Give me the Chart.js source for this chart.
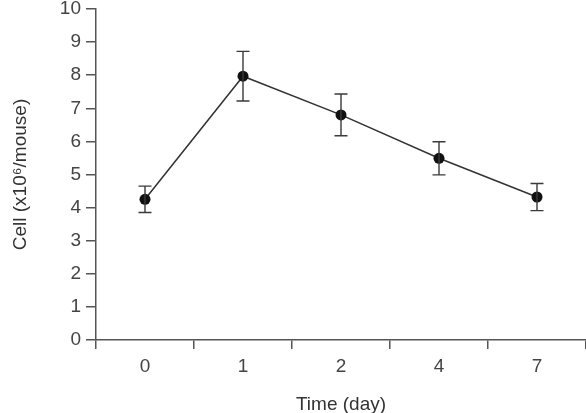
<!DOCTYPE html>
<html>
<head>
<meta charset="utf-8">
<script src="https://cdn.jsdelivr.net/npm/chart.js@4/dist/chart.umd.min.js"></script>
<style>
html,body{margin:0;padding:0;background:#fff;}
#wrap{width:586px;height:413px;}
</style>
</head>
<body>
<div id="wrap"><canvas id="c" width="586" height="413"></canvas></div>
<script>
const categories = ['0', '1', '2', '4', '7'];
const cellMeans = [4.25, 7.97, 6.8, 5.49, 4.32];
const cellErrors = [0.4, 0.75, 0.63, 0.5, 0.41];
const yTicks = [0, 1, 2, 3, 4, 5, 6, 7, 8, 9, 10];

const errorBars = {
  id: 'errorBars',
  afterDatasetsDraw(chart) {
    const ctx = chart.ctx;
    const xs = chart.scales.x, ys = chart.scales.y;
    ctx.save();
    ctx.strokeStyle = '#3a3a3a';
    ctx.lineWidth = 1.4;
    const cap = 6.5;
    cellMeans.forEach((m, i) => {
      const x = xs.getPixelForValue(i);
      const yt = ys.getPixelForValue(m + cellErrors[i]);
      const yb = ys.getPixelForValue(m - cellErrors[i]);
      ctx.beginPath();
      ctx.moveTo(x, yt); ctx.lineTo(x, yb);
      ctx.moveTo(x - cap, yt); ctx.lineTo(x + cap, yt);
      ctx.moveTo(x - cap, yb); ctx.lineTo(x + cap, yb);
      ctx.stroke();
    });
    ctx.restore();
  }
};

const font = {family: '"Liberation Sans", Arial, sans-serif', size: 19};

new Chart(document.getElementById('c'), {
  type: 'line',
  data: {
    labels: categories,
    datasets: [{
      data: cellMeans,
      borderColor: '#333',
      borderWidth: 1.5,
      pointRadius: 5.5,
      pointBackgroundColor: '#111',
      pointBorderColor: '#111',
      pointBorderWidth: 0,
      tension: 0,
      fill: false
    }]
  },
  options: {
    responsive: false,
    animation: false,
    devicePixelRatio: 1,
    layout: {autoPadding: false, padding: {top: 9, right: 0, left: 0, bottom: 0}},
    plugins: {legend: {display: false}, tooltip: {enabled: false}},
    scales: {
      x: {
        type: 'category',
        offset: true,
        grid: {offset: true, drawOnChartArea: false, drawTicks: true, tickLength: 9, color: '#555', lineWidth: 1.5},
        border: {display: true, color: '#555', width: 1.5},
        ticks: {color: '#444', font: font, padding: 6, maxRotation: 0},
        title: {display: true, text: 'Time (day)', color: '#333', font: {family: font.family, size: 19, lineHeight: 1}, padding: {top: 0, bottom: -1}},
        afterFit(s) { s.height = 73; s.paddingLeft = 0; s.paddingRight = 0; }
      },
      y: {
        min: 0, max: 10,
        afterBuildTicks(s) { s.ticks = yTicks.map(v => ({value: v})); },
        grid: {drawOnChartArea: false, drawTicks: true, tickLength: 10, color: '#555', lineWidth: 1.5},
        border: {display: true, color: '#555', width: 1.5},
        ticks: {color: '#444', font: font, padding: 5},
        title: {display: true, text: 'Cell (x10⁶/mouse)', color: '#333', font: {family: font.family, size: 19, lineHeight: 1}, padding: {top: 11, bottom: 0}},
        afterFit(s) { s.width = 96; s.paddingTop = 0; s.paddingBottom = 0; }
      }
    }
  },
  plugins: [errorBars]
});
</script>
</body>
</html>
